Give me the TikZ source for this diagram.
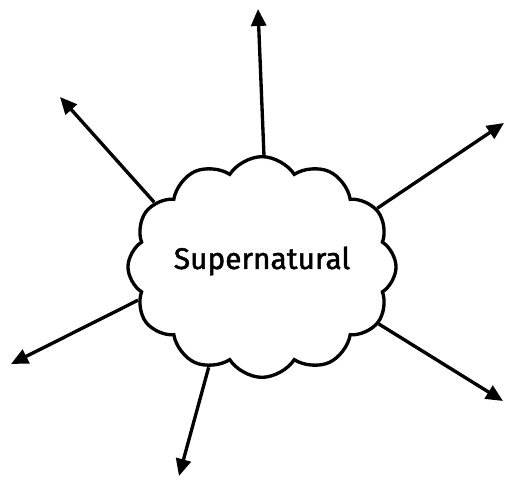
\documentclass[tikz,border=0pt]{standalone}
\usepackage{fontspec}
\setmainfont{Fira Sans}
\usetikzlibrary{shapes.symbols, arrows.meta}

\begin{document}
\begin{tikzpicture}[
    x=0.02cm, y=-0.02cm,
    idea/.style={cloud, draw, line width=1.9pt, cloud puffs=12, cloud puff arc=115, aspect=1.3,
                 minimum width=5.15cm, minimum height=3.85cm, inner sep=0pt,
                 text height=0.45cm, text depth=0.37cm,
                 font=\fontsize{17}{20}\selectfont\addfontfeature{FakeBold=1.6}},
    ray/.style={-{Triangle[length=3.4mm, width=3mm]}, line width=1.9pt}
]
\useasboundingbox (0,0) rectangle (506,482);

\node[idea] (super) at (262,267) {Supernatural};

% ends of the rays
\coordinate (tipN)  at (258,9);
\coordinate (tipNW) at (60,97);
\coordinate (tipNE) at (504,123);
\coordinate (tipSW) at (11,364);
\coordinate (tipS)  at (179,476);
\coordinate (tipSE) at (503,401);

\draw[ray] (super.89)  -- (tipN);
\draw[ray] (super.149) -- (tipNW);
\draw[ray] (super.27)  -- (tipNE);
\draw[ray] (super.195) -- (tipSW);
\draw[ray] (super.242) -- (tipS);
\draw[ray] (super.334) -- (tipSE);
\end{tikzpicture}
\end{document}
